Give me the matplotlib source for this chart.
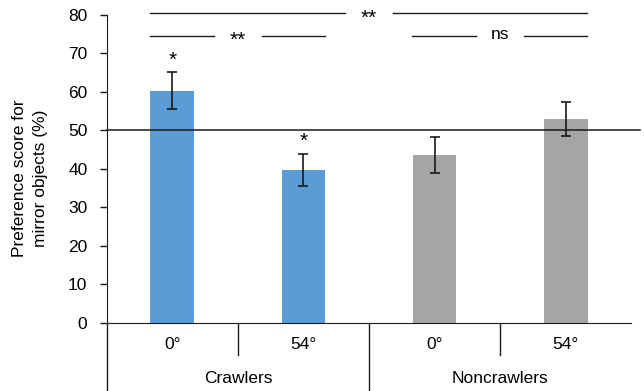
import numpy as np
import matplotlib.pyplot as plt
import matplotlib.transforms as mtransforms

plt.rcParams['font.family'] = ['Liberation Sans', 'DejaVu Sans']

angles = ['0°', '54°', '0°', '54°']
groups = ['Crawlers', 'Noncrawlers']
scores = [60.3, 39.8, 43.7, 53.0]
errors = [4.8, 4.2, 4.7, 4.4]
colors = ['#5B9BD5', '#5B9BD5', '#A5A5A5', '#A5A5A5']
bar_marks = ['*', '*', '', '']
# (x_from, x_to, y, label)
brackets = [(0, 3, 80.4, '**'), (0, 1, 74.5, '**'), (2, 3, 74.5, 'ns')]

fig = plt.figure(figsize=(6.44, 3.91), dpi=100)
ax = fig.add_axes([0.166, 0.174, 0.814, 0.788])

x = np.arange(len(scores))
w = 0.335
ax.bar(x, scores, width=w, color=colors, zorder=2)
ax.errorbar(x, scores, yerr=errors, fmt='none', ecolor='#1a1a1a',
            elinewidth=1.2, capsize=3.5, capthick=1.2, zorder=3)

for xi, s, e, m in zip(x, scores, errors, bar_marks):
    if m:
        ax.text(xi, s + e + 0.6, m, ha='center', va='bottom', fontsize=15)

# reference line at 50 %
ax.plot([-0.5, 3.57], [50, 50], color='#1a1a1a', lw=1.1, clip_on=False, zorder=4)

# significance brackets
gap = 0.185
for a, b, yv, lab in brackets:
    left, right = a - w / 2 - 0.004, b + w / 2 - 0.004
    mid = (a + b) / 2
    ax.plot([left, mid - gap], [yv, yv], color='#1a1a1a', lw=1.0, clip_on=False)
    ax.plot([mid + gap, right], [yv, yv], color='#1a1a1a', lw=1.0, clip_on=False)
    if lab == 'ns':
        ax.text(mid, yv + 0.3, lab, ha='center', va='center', fontsize=12.5)
    else:
        ax.text(mid, yv - 1.2, lab, ha='center', va='center', fontsize=15)

ax.set_xlim(-0.5, 3.5)
ax.set_ylim(0, 80)
ax.set_yticks(np.arange(0, 81, 10))
ax.tick_params(axis='y', labelsize=12.5, length=5, width=1, color='#1a1a1a', pad=9)
ax.set_xticks([])
for side in ['top', 'right']:
    ax.spines[side].set_visible(False)
ax.spines['left'].set_bounds(0, 80)
ax.spines['left'].set_color('#1a1a1a')
ax.spines['bottom'].set_color('#1a1a1a')

ax.set_ylabel('Preference score for\nmirror objects (%)', fontsize=12.5, linespacing=1.5)
ax.yaxis.set_label_coords(-0.112, 0.47)

# category axis below
trans = mtransforms.blended_transform_factory(ax.transData, ax.transAxes)
ax.plot([-0.5, -0.5], [0, -0.221], color='#1a1a1a', lw=1.0, transform=trans, clip_on=False)
for xv in [0.5, 2.5]:
    ax.plot([xv, xv], [0, -0.104], color='#1a1a1a', lw=1.0, transform=trans, clip_on=False)
ax.plot([1.5, 1.5], [0, -0.221], color='#1a1a1a', lw=1.0, transform=trans, clip_on=False)
for xi, lab in zip(x, angles):
    ax.text(xi, -0.071, lab, transform=trans, ha='center', va='center', fontsize=12.5)
for gi, lab in enumerate(groups):
    ax.text(0.5 + 2 * gi, -0.179, lab, transform=trans, ha='center', va='center', fontsize=12.5)

fig.savefig('out.png', dpi=100)
